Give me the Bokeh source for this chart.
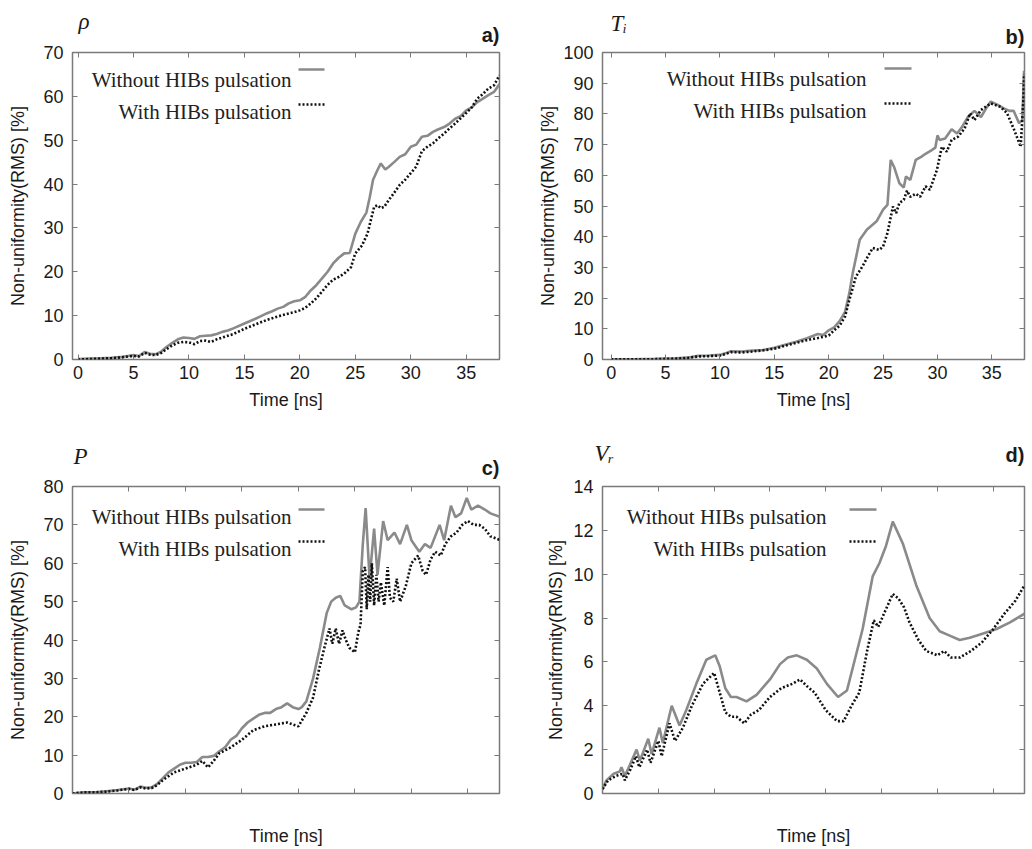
from bokeh.plotting import figure
from bokeh.layouts import gridplot
from bokeh.models import (Range1d, LinearAxis, SingleIntervalTicker,
                          CustomJSTickFormatter, Label, Arrow, Title)
from bokeh.embed import file_html
from bokeh.resources import INLINE

# ---------------- data ----------------
# a) rho
rho_t_without = [0, 1, 2, 3, 4, 4.5, 5, 5.5, 6, 6.5, 7, 7.5, 8, 8.5, 9, 9.5, 10, 10.5, 11, 11.5, 12, 12.5, 13, 13.5, 14,
                 15, 16, 16.5, 17, 17.5, 18, 18.5, 19, 19.5, 20, 20.5, 21, 21.5, 22, 22.5, 23, 23.5, 24, 24.5, 25, 25.5,
                 26, 26.3, 26.6, 27, 27.3, 27.7, 28, 28.5, 29, 29.5, 30, 30.5, 31, 31.5, 32, 32.5, 33, 33.5, 34, 34.5,
                 35, 35.5, 36, 36.5, 37, 37.5, 38]
rho_without = [0.1, 0.2, 0.3, 0.4, 0.6, 0.8, 1.0, 0.8, 1.7, 1.3, 1.2, 1.8, 2.9, 3.8, 4.6, 5.0, 4.9, 4.7, 5.3, 5.4, 5.5,
               5.8, 6.3, 6.6, 7.1, 8.2, 9.3, 9.9, 10.5, 11.0, 11.6, 12.0, 12.8, 13.3, 13.5, 14.3, 15.8, 17.0, 18.5,
               20.0, 21.9, 23.2, 24.2, 24.3, 28.7, 31.4, 33.5, 37.0, 41.0, 43.2, 44.7, 43.3, 43.9, 45.0, 46.2, 46.8,
               48.5, 49.0, 50.8, 51.0, 51.9, 52.5, 53.0, 53.8, 54.9, 55.5, 56.8, 57.5, 58.7, 59.5, 60.3, 61.0, 62.8]
rho_t_with = [0, 1, 2, 3, 4, 4.5, 5, 5.5, 6, 6.5, 7, 7.5, 8, 8.5, 9, 9.5, 10, 10.5, 11, 11.5, 12, 12.5, 13, 13.5, 14,
              15, 16, 17, 18, 19, 19.5, 20, 20.5, 21, 21.5, 22, 22.5, 23, 23.5, 24, 24.6, 25, 25.6, 26.1, 26.4, 26.7,
              27, 27.3, 27.6, 28, 28.5, 29, 29.5, 30, 30.5, 31, 31.5, 32, 32.5, 33, 33.5, 34, 34.5, 35, 35.5, 36,
              36.5, 37, 37.5, 38]
rho_with = [0.0, 0.1, 0.2, 0.3, 0.5, 0.7, 0.8, 0.7, 1.5, 1.1, 1.0, 1.5, 2.4, 3.2, 3.8, 4.0, 3.9, 3.5, 4.2, 4.3, 4.0,
            4.6, 5.0, 5.4, 5.8, 7.0, 8.0, 9.0, 9.8, 10.5, 10.8, 11.2, 11.8, 12.8, 14.0, 15.5, 17.0, 18.2, 18.8, 19.6,
            21.0, 24.2, 26.0, 28.7, 31.8, 34.8, 35.2, 34.5, 34.8, 36.3, 38.0, 39.8, 41.0, 42.5, 44.0, 47.5, 48.5,
            49.3, 50.5, 51.5, 52.7, 53.8, 55.0, 56.2, 57.5, 59.5, 60.5, 61.8, 62.5, 64.8]

# b) Ti
ti_t_without = [0, 2, 4, 5, 6, 7, 8, 9, 10, 10.5, 11, 12, 13, 14, 15, 16, 17, 18, 19, 19.5, 20, 20.5, 21, 21.5, 21.9,
                22.2, 22.85, 23.5, 24.4, 25.0, 25.4, 25.7, 26.0, 26.5, 26.9, 27.1, 27.5, 28.0, 28.5, 28.9, 29.4, 29.8,
                30.0, 30.2, 30.7, 31.3, 31.8, 32.3, 32.8, 33.4, 34.0, 34.5, 34.9, 35.5, 36.1, 36.6, 37.0, 37.5, 37.8,
                37.96]
ti_without = [0.1, 0.1, 0.2, 0.3, 0.4, 0.6, 1.2, 1.3, 1.5, 2.0, 2.7, 2.6, 2.9, 3.1, 3.8, 4.8, 5.8, 6.9, 8.3, 8.0, 9.5,
              10.5, 12.5, 15.5, 21.7, 28, 39, 42.3, 45, 48.8, 50.4, 65, 62.8, 57.4, 56, 59.6, 58.5, 65, 66, 67, 68,
              69, 73, 71.5, 72, 75, 73.6, 76, 79, 81, 79, 82, 84, 83, 81.8, 81, 81, 77, 78, 94]
ti_t_with = [0, 2, 4, 5, 6, 7, 8, 9, 10, 10.5, 11, 12, 13, 14, 15, 16, 17, 18, 19, 20, 20.5, 21, 21.5, 21.9, 22.5,
             23.1, 23.6, 24.05, 24.65, 25.0, 25.4, 25.9, 26.2, 26.5, 26.9, 27.2, 27.5, 28.0, 28.4, 28.9, 29.3, 29.95,
             30.4, 30.85, 31.3, 31.9, 32.5, 33.0, 33.4, 34.0, 34.9, 35.8, 36.4, 37.05, 37.65, 37.9, 37.96]
ti_with = [0.1, 0.1, 0.1, 0.2, 0.3, 0.5, 1.0, 1.1, 1.3, 1.8, 2.4, 2.3, 2.6, 3.0, 3.5, 4.5, 5.4, 6.3, 7.0, 7.8, 9.5,
           11, 14, 19.5, 27, 30.3, 33.6, 36.3, 35.7, 36.8, 41.2, 49.8, 47.7, 51, 52, 55, 53, 54, 53, 56.4, 55.3,
           61.8, 69.3, 67.7, 71.5, 72.6, 75.3, 80.2, 78, 81.3, 83.4, 82.3, 80.2, 74.8, 69.3, 84.5, 93]

# c) P
p_t_without = [0, 1, 2, 3, 4, 5, 5.5, 6, 6.5, 7, 7.5, 8, 8.5, 9, 9.5, 10, 10.5, 11, 11.5, 12, 12.5, 13, 13.5, 14,
               14.5, 15, 15.5, 16, 16.5, 17, 17.5, 18, 18.5, 19, 19.5, 20, 20.3, 20.7, 21.3, 21.9, 22.5, 22.9, 23.3,
               23.7, 24.1, 24.7, 25.1, 25.4, 25.7, 25.95, 26.3, 26.7, 27.0, 27.5, 27.9, 28.5, 29.0, 29.6, 30.0, 30.7,
               31.2, 31.7, 32.1, 32.5, 32.9, 33.5, 33.9, 34.4, 34.9, 35.3, 35.9, 36.5, 37.0, 37.9]
p_without = [0, 0.3, 0.3, 0.6, 0.9, 1.3, 1.0, 1.8, 1.5, 1.6, 2.5, 4, 5.5, 6.5, 7.5, 8, 8, 8.2, 9.5, 9.5, 9.8, 11, 12,
             14, 15, 17, 18.5, 19.5, 20.5, 21, 21, 22, 22.5, 23.5, 22.5, 22, 22.5, 24, 30, 38, 47, 50, 51, 51.5, 49,
             48, 48.5, 50, 65, 74.4, 56, 69, 57, 71, 66, 68, 65, 70, 66, 63, 65, 64, 67, 70, 66, 75, 72, 73, 77, 74,
             75, 74, 73, 72]
p_t_with = [0, 1, 2, 3, 4, 5, 5.5, 6, 6.5, 7, 7.5, 8, 9, 10, 11, 11.5, 12, 12.5, 13, 14, 15, 16, 17, 18, 19, 19.5,
            20, 20.3, 20.7, 21.3, 21.8, 22.3, 22.75, 23.0, 23.3, 23.6, 23.9, 24.2, 24.5, 25.0, 25.3, 25.5, 25.7,
            25.9, 26.05, 26.2, 26.35, 26.5, 26.7, 26.9, 27.1, 27.3, 27.6, 27.9, 28.1, 28.4, 28.7, 29.0, 29.5, 30.0,
            30.6, 31.0, 31.3, 31.7, 32.1, 32.6, 33.0, 33.5, 34.0, 34.5, 35.0, 35.5, 36.0, 36.5, 37.0, 37.9]
p_with = [0, 0.3, 0.3, 0.5, 0.8, 1.2, 0.9, 1.6, 1.3, 1.4, 2.2, 3.5, 5.5, 6.5, 7.5, 8.5, 6.8, 8.5, 10.5, 12, 14, 16.5,
          17.5, 18, 18.5, 18, 17.5, 19, 21, 25, 32, 38, 43, 39, 43, 39, 42.5, 40, 38, 36.8, 42, 44, 58, 59, 48, 57,
          50, 60, 49, 57, 50, 55, 49, 59, 51, 50, 56, 50, 54, 60, 62, 58, 57, 61, 63, 62, 65, 67, 68, 70, 71, 70,
          70, 69, 67, 66, 66]

# d) Vr
vr_t_without = [0, 0.35, 1.0, 1.55, 1.7, 2.0, 2.45, 3.05, 3.35, 4.1, 4.4, 5.1, 5.4, 6.2, 6.9, 7.5, 8.4, 9.3, 10.1,
                10.5, 11.0, 11.5, 12.0, 12.9, 13.8, 15.0, 15.9, 16.6, 17.4, 18.3, 19.2, 20.1, 21.1, 21.9, 22.4, 23.3,
                24.2, 24.8, 25.4, 26.0, 26.9, 28.1, 29.3, 30.2, 31.1, 32.0, 32.9, 34.1, 35.3, 36.5, 37.8]
vr_without = [0.2, 0.6, 0.9, 1.0, 1.2, 0.8, 1.3, 2.0, 1.5, 2.5, 1.8, 3.0, 2.3, 4.0, 3.1, 3.8, 5.0, 6.1, 6.3, 5.8, 4.8,
              4.4, 4.4, 4.2, 4.5, 5.2, 5.9, 6.2, 6.3, 6.1, 5.7, 5.0, 4.4, 4.7, 5.7, 7.5, 9.9, 10.5, 11.3, 12.4,
              11.4, 9.5, 8.0, 7.4, 7.2, 7.0, 7.1, 7.3, 7.5, 7.8, 8.2]
vr_t_with = [0, 0.5, 1.2, 1.8, 2.0, 2.5, 3.0, 3.3, 4.0, 4.3, 5.0, 5.3, 6.0, 6.5, 7.2, 8.0, 9.0, 10.0, 10.5, 11.0,
             11.5, 12.0, 12.7, 13.3, 14.0, 15.0, 16.0, 17.0, 17.7, 18.3, 19.0, 20.0, 21.0, 21.6, 22.3, 23.0, 23.7,
             24.3, 24.7, 25.3, 26.0, 26.5, 27.0, 27.5, 28.3, 29.0, 30.0, 30.6, 31.2, 32.0, 33.0, 34.0, 35.0, 36.0,
             37.0, 37.8]
vr_with = [0.2, 0.6, 0.8, 0.9, 0.6, 1.1, 1.7, 1.2, 2.0, 1.4, 2.4, 1.7, 3.2, 2.4, 3.0, 4.0, 5.0, 5.5, 4.6, 3.7, 3.5,
           3.5, 3.2, 3.6, 3.8, 4.4, 4.8, 5.0, 5.2, 4.9, 4.6, 3.8, 3.3, 3.3, 4.0, 4.6, 6.5, 7.9, 7.6, 8.3, 9.1, 8.9,
           8.5, 7.8, 7.0, 6.5, 6.3, 6.5, 6.2, 6.2, 6.5, 6.9, 7.5, 8.2, 8.8, 9.5]

x_tick_labels = ["0", "5", "10", "15", "20", "25", "30", "35"]
legend_labels = ["Without HIBs pulsation", "With HIBs pulsation"]
y_label = "Non-uniformity(RMS) [%]"
x_label = "Time [ns]"

FRAME = "#7a7a7a"
GRAY = "#8a8a8a"
DARK = "#111111"
TXT = "#1a1a1a"


def no_labels():
    return CustomJSTickFormatter(code="return ''")


def make_panel(tw, yw, tt, yt, xr, yr, ystep, w, h, mb, show_xticklabels,
               ylab_standoff, xlab_standoff, leg_text_x, leg_line_x, leg_ys, leg_line_ys):
    p = figure(width=w, height=h, x_range=Range1d(*xr), y_range=Range1d(*yr),
               output_backend="svg", toolbar_location=None,
               min_border_left=mb[0], min_border_right=mb[1],
               min_border_top=mb[2], min_border_bottom=mb[3])
    p.grid.visible = False
    p.outline_line_color = FRAME
    p.outline_line_width = 1.5

    p.line(tw, yw, line_color=GRAY, line_width=2.6)
    p.line(tt, yt, line_color=DARK, line_width=2.6, line_dash="2 2")

    p.xaxis.ticker = SingleIntervalTicker(interval=5, num_minor_ticks=0)
    p.yaxis.ticker = SingleIntervalTicker(interval=ystep, num_minor_ticks=0)
    for ax in p.xaxis + p.yaxis:
        ax.axis_line_color = None
        ax.major_tick_in = 5
        ax.major_tick_out = 0
        ax.minor_tick_in = 0
        ax.minor_tick_out = 0
        ax.major_tick_line_color = FRAME
        ax.major_label_text_font = "Liberation Sans"
        ax.major_label_text_font_size = "18px"
        ax.major_label_text_color = TXT
        ax.axis_label_text_font = "Liberation Sans"
        ax.axis_label_text_font_size = "18px"
        ax.axis_label_text_font_style = "normal"
        ax.axis_label_text_color = TXT
    p.yaxis.major_label_standoff = 9
    p.xaxis.major_label_standoff = 6
    p.yaxis.axis_label = y_label
    p.xaxis.axis_label = x_label
    p.yaxis.axis_label_standoff = ylab_standoff
    p.xaxis.axis_label_standoff = xlab_standoff
    if show_xticklabels:
        p.xaxis.major_label_overrides = {i * 5: s for i, s in enumerate(x_tick_labels)}
    else:
        p.xaxis.formatter = no_labels()

    # mirrored ticks on top and right
    top = LinearAxis(ticker=SingleIntervalTicker(interval=5, num_minor_ticks=0), formatter=no_labels(),
                     major_tick_in=5, major_tick_out=0, minor_tick_in=0, minor_tick_out=0,
                     axis_line_color=None, major_tick_line_color=FRAME, major_label_standoff=0,
                     major_label_text_font_size="1px")
    right = LinearAxis(ticker=SingleIntervalTicker(interval=ystep, num_minor_ticks=0), formatter=no_labels(),
                       major_tick_in=5, major_tick_out=0, minor_tick_in=0, minor_tick_out=0,
                       axis_line_color=None, major_tick_line_color=FRAME, major_label_standoff=0,
                       major_label_text_font_size="1px")
    p.add_layout(top, "above")
    p.add_layout(right, "right")

    # legend (text to the left of its sample line)
    styles = [dict(line_color=GRAY, line_dash="solid"), dict(line_color=DARK, line_dash="2 2")]
    for lab, ty, ly, st in zip(legend_labels, leg_ys, leg_line_ys, styles):
        p.add_layout(Label(x=leg_text_x, y=ty, x_units="screen", y_units="screen", text=lab,
                           text_font="Liberation Serif", text_font_size="21px", text_color="#222222",
                           text_align="right", text_baseline="alphabetic"))
        p.add_layout(Arrow(end=None, x_start=leg_line_x[0], y_start=ly, x_end=leg_line_x[1], y_end=ly,
                           start_units="screen", end_units="screen", line_width=2.6, **st))
    return p


def title_labels(p, sym, letter, sym_offset, sym_standoff, letter_standoff):
    p.add_layout(Title(text=letter, align="right", text_font="Liberation Sans", text_font_style="bold",
                       text_font_size="20px", text_color=TXT, standoff=letter_standoff), "above")
    p.title = Title(text=sym, align="left", offset=sym_offset, text_font="Liberation Serif",
                    text_font_style="italic", text_font_size="23px", text_color=TXT,
                    standoff=sym_standoff)


pa = make_panel(rho_t_without, rho_without, rho_t_with, rho_with, (-0.5, 38.0), (0, 70), 10,
                516, 415, (72, 17, 52, 56), True, 12, 8, 219, (226, 252), (280, 248), (290, 255))
title_labels(pa, "ρ", "a)", 6, -36, 13)

pb = make_panel(ti_t_without, ti_without, ti_t_with, ti_with, (-0.8, 38.0), (0, 100), 10,
                516, 415, (86, 2, 52, 56), True, 2, 8, 264, (282, 309), (281, 249), (291, 256))
title_labels(pb, "Tᵢ", "b)", 8, -34, 10)

pc = make_panel(p_t_without, p_without, p_t_with, p_with, (0, 37.8), (0, 80), 10,
                516, 433, (72, 17, 71, 55), False, 12, 32, 219, (226, 252), (277, 245), (284, 252))
title_labels(pc, "P", "c)", 1, -42, 15)

pd_ = make_panel(vr_t_without, vr_without, vr_t_with, vr_with, (0, 37.8), (0, 14), 2,
                 516, 433, (86, 8, 71, 55), False, 4, 32, 224, (247, 274), (277, 245), (284, 252))
title_labels(pd_, "Vᵣ", "d)", -8, -89, 41)

grid = gridplot([[pa, pb], [pc, pd_]], toolbar_location=None)
open("out.html", "w").write(file_html(grid, INLINE))
